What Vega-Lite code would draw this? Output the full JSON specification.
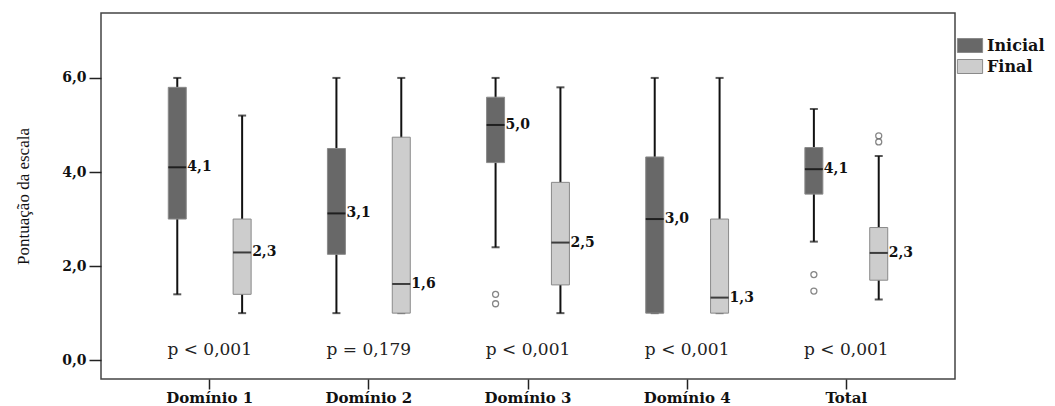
{
  "$schema": "https://vega.github.io/schema/vega-lite/v6.json",
  "width": 854,
  "height": 366,
  "autosize": "none",
  "padding": {"left": 101, "top": 13, "right": 100, "bottom": 27},
  "background": "white",
  "config": {
    "locale": {"number": {"decimal": ",", "thousands": ".", "grouping": [3], "currency": ["R$", ""]}},
    "view": {"stroke": "#444", "strokeWidth": 1.5},
    "axisY": {
      "format": ".1f", "grid": false, "domain": false,
      "tickSize": 12, "tickColor": "#222", "tickWidth": 1.5, "labelPadding": 3,
      "labelFont": "DejaVu Serif", "labelFontWeight": "bold", "labelFontSize": 14, "labelColor": "#111",
      "titleFont": "Liberation Serif", "titleFontWeight": "normal", "titleFontSize": 17, "titleColor": "#111",
      "titleX": -78, "titleY": 183, "titleAngle": -90, "titleBaseline": "middle", "titleAlign": "center"
    },
    "axisX": {
      "labelAngle": 0, "grid": false, "domain": false, "tickSize": 10, "tickColor": "#222", "tickWidth": 1.5,
      "labelPadding": 1, "labelFont": "DejaVu Serif", "labelFontWeight": "bold", "labelFontSize": 15, "labelColor": "#111"
    },
    "legend": {
      "labelFont": "DejaVu Serif", "labelFontWeight": "bold", "labelFontSize": 16, "labelColor": "#111"
    }
  },
  "datasets": {
    "boxes": [
      {"dom": "Domínio 1", "grupo": "Inicial", "lo": 1.4, "q1": 3.0, "med": 4.1, "q3": 5.8, "hi": 6.0},
      {"dom": "Domínio 1", "grupo": "Final", "lo": 1.0, "q1": 1.4, "med": 2.29, "q3": 3.0, "hi": 5.2},
      {"dom": "Domínio 2", "grupo": "Inicial", "lo": 1.0, "q1": 2.25, "med": 3.12, "q3": 4.5, "hi": 6.0},
      {"dom": "Domínio 2", "grupo": "Final", "lo": 1.0, "q1": 1.0, "med": 1.62, "q3": 4.74, "hi": 6.0},
      {"dom": "Domínio 3", "grupo": "Inicial", "lo": 2.4, "q1": 4.2, "med": 5.0, "q3": 5.59, "hi": 6.0},
      {"dom": "Domínio 3", "grupo": "Final", "lo": 1.0, "q1": 1.6, "med": 2.5, "q3": 3.78, "hi": 5.8},
      {"dom": "Domínio 4", "grupo": "Inicial", "lo": 1.0, "q1": 1.0, "med": 3.0, "q3": 4.32, "hi": 6.0},
      {"dom": "Domínio 4", "grupo": "Final", "lo": 1.0, "q1": 1.0, "med": 1.33, "q3": 3.0, "hi": 6.0},
      {"dom": "Total", "grupo": "Inicial", "lo": 2.52, "q1": 3.53, "med": 4.06, "q3": 4.52, "hi": 5.34},
      {"dom": "Total", "grupo": "Final", "lo": 1.29, "q1": 1.7, "med": 2.28, "q3": 2.82, "hi": 4.34}
    ],
    "outliers": [
      {"dom": "Domínio 3", "grupo": "Inicial", "v": 1.4},
      {"dom": "Domínio 3", "grupo": "Inicial", "v": 1.2},
      {"dom": "Total", "grupo": "Inicial", "v": 1.82},
      {"dom": "Total", "grupo": "Inicial", "v": 1.47},
      {"dom": "Total", "grupo": "Final", "v": 4.77},
      {"dom": "Total", "grupo": "Final", "v": 4.64}
    ],
    "pvals": [
      {"dom": "Domínio 1", "p": "p < 0,001", "y": 0.21},
      {"dom": "Domínio 2", "p": "p = 0,179", "y": 0.21},
      {"dom": "Domínio 3", "p": "p < 0,001", "y": 0.21},
      {"dom": "Domínio 4", "p": "p < 0,001", "y": 0.21},
      {"dom": "Total", "p": "p < 0,001", "y": 0.21}
    ]
  },
  "layer": [
    {
      "data": {"name": "boxes"},
      "mark": {"type": "rule", "color": "#111", "strokeWidth": 2},
      "encoding": {
        "x": {"field": "dom", "type": "nominal", "title": null, "sort": null, "scale": {"type": "band", "paddingInner": 0, "paddingOuter": 0.183}},
        "xOffset": {"field": "grupo", "type": "nominal", "sort": ["Inicial", "Final"], "scale": {"paddingInner": 0, "paddingOuter": 0.227}},
        "y": {"field": "lo", "type": "quantitative", "title": "Pontuação da escala", "axis": {"values": [0, 2, 4, 6]}, "scale": {"domain": [-0.4, 7.38], "nice": false, "zero": false}},
        "y2": {"field": "hi"}
      }
    },
    {
      "data": {"name": "boxes"},
      "mark": {"type": "tick", "color": "#111", "size": 8, "thickness": 2},
      "encoding": {
        "x": {"field": "dom", "type": "nominal", "title": null, "sort": null, "scale": {"type": "band", "paddingInner": 0, "paddingOuter": 0.183}},
        "xOffset": {"field": "grupo", "type": "nominal", "sort": ["Inicial", "Final"], "scale": {"paddingInner": 0, "paddingOuter": 0.227}},
        "y": {"field": "lo", "type": "quantitative", "title": "Pontuação da escala", "axis": {"values": [0, 2, 4, 6]}, "scale": {"domain": [-0.4, 7.38], "nice": false, "zero": false}}
      }
    },
    {
      "data": {"name": "boxes"},
      "mark": {"type": "tick", "color": "#111", "size": 8, "thickness": 2},
      "encoding": {
        "x": {"field": "dom", "type": "nominal", "title": null, "sort": null, "scale": {"type": "band", "paddingInner": 0, "paddingOuter": 0.183}},
        "xOffset": {"field": "grupo", "type": "nominal", "sort": ["Inicial", "Final"], "scale": {"paddingInner": 0, "paddingOuter": 0.227}},
        "y": {"field": "hi", "type": "quantitative", "title": "Pontuação da escala", "axis": {"values": [0, 2, 4, 6]}, "scale": {"domain": [-0.4, 7.38], "nice": false, "zero": false}}
      }
    },
    {
      "data": {"name": "boxes"},
      "mark": {"type": "bar", "size": 18, "stroke": "#8a8a8a", "strokeWidth": 1, "opacity": 1},
      "encoding": {
        "x": {"field": "dom", "type": "nominal", "title": null, "sort": null, "scale": {"type": "band", "paddingInner": 0, "paddingOuter": 0.183}},
        "xOffset": {"field": "grupo", "type": "nominal", "sort": ["Inicial", "Final"], "scale": {"paddingInner": 0, "paddingOuter": 0.227}},
        "y": {"field": "q1", "type": "quantitative", "title": "Pontuação da escala", "axis": {"values": [0, 2, 4, 6]}, "scale": {"domain": [-0.4, 7.38], "nice": false, "zero": false}},
        "y2": {"field": "q3"},
        "color": {
          "field": "grupo", "type": "nominal", "sort": ["Inicial", "Final"],
          "scale": {"domain": ["Inicial", "Final"], "range": ["#686868", "#cdcdcd"]},
          "legend": {
            "title": null, "orient": "none", "legendX": 861, "legendY": 24.5, "padding": 0,
            "symbolType": "M-1.8,-1L1.8,-1L1.8,1L-1.8,1Z", "symbolSize": 196,
            "symbolStrokeColor": "#8a8a8a", "symbolStrokeWidth": 1, "symbolOpacity": 1,
            "labelOffset": 9, "rowPadding": 3
          }
        }
      }
    },
    {
      "data": {"name": "boxes"},
      "mark": {"type": "tick", "color": "#000", "size": 18, "thickness": 2},
      "encoding": {
        "x": {"field": "dom", "type": "nominal", "title": null, "sort": null, "scale": {"type": "band", "paddingInner": 0, "paddingOuter": 0.183}},
        "xOffset": {"field": "grupo", "type": "nominal", "sort": ["Inicial", "Final"], "scale": {"paddingInner": 0, "paddingOuter": 0.227}},
        "y": {"field": "med", "type": "quantitative", "title": "Pontuação da escala", "axis": {"values": [0, 2, 4, 6]}, "scale": {"domain": [-0.4, 7.38], "nice": false, "zero": false}}
      }
    },
    {
      "data": {"name": "boxes"},
      "mark": {"type": "text", "align": "left", "baseline": "middle", "dx": 10, "font": "DejaVu Serif", "fontWeight": "bold", "fontSize": 14, "color": "#111"},
      "encoding": {
        "x": {"field": "dom", "type": "nominal", "title": null, "sort": null, "scale": {"type": "band", "paddingInner": 0, "paddingOuter": 0.183}},
        "xOffset": {"field": "grupo", "type": "nominal", "sort": ["Inicial", "Final"], "scale": {"paddingInner": 0, "paddingOuter": 0.227}},
        "y": {"field": "med", "type": "quantitative", "title": "Pontuação da escala", "axis": {"values": [0, 2, 4, 6]}, "scale": {"domain": [-0.4, 7.38], "nice": false, "zero": false}},
        "text": {"field": "med", "type": "quantitative", "format": ".1f"}
      }
    },
    {
      "data": {"name": "outliers"},
      "mark": {"type": "point", "shape": "circle", "filled": false, "size": 36, "stroke": "#555", "strokeWidth": 1.3},
      "encoding": {
        "x": {"field": "dom", "type": "nominal", "title": null, "sort": null, "scale": {"type": "band", "paddingInner": 0, "paddingOuter": 0.183}},
        "xOffset": {"field": "grupo", "type": "nominal", "sort": ["Inicial", "Final"], "scale": {"paddingInner": 0, "paddingOuter": 0.227}},
        "y": {"field": "v", "type": "quantitative", "title": "Pontuação da escala", "axis": {"values": [0, 2, 4, 6]}, "scale": {"domain": [-0.4, 7.38], "nice": false, "zero": false}}
      }
    },
    {
      "data": {"name": "pvals"},
      "mark": {"type": "text", "align": "center", "baseline": "middle", "font": "DejaVu Serif", "fontSize": 17, "color": "#222"},
      "encoding": {
        "x": {"field": "dom", "type": "nominal", "title": null, "sort": null, "scale": {"type": "band", "paddingInner": 0, "paddingOuter": 0.183}},
        "y": {"field": "y", "type": "quantitative", "title": "Pontuação da escala", "axis": {"values": [0, 2, 4, 6]}, "scale": {"domain": [-0.4, 7.38], "nice": false, "zero": false}},
        "text": {"field": "p"}
      }
    }
  ]
}
